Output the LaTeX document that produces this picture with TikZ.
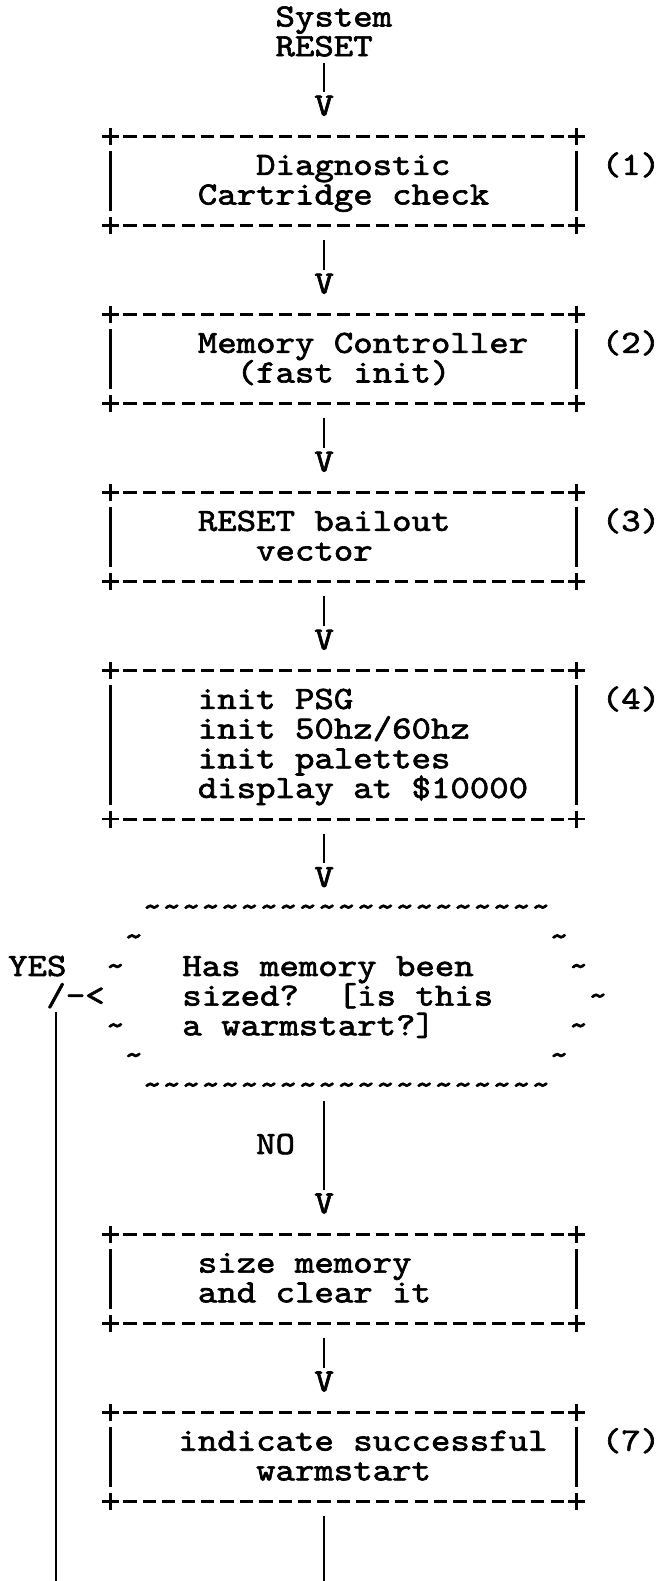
\documentclass[tikz,border=0pt]{standalone}
\usepackage{fontspec}
\newfontfamily\monofnt{lmmono10-regular.otf}[FakeStretch=1.142, FakeBold=2]
\usetikzlibrary{calc}
% grid: column centre / row centre / cell left / baseline (pixels, y downward)
\newcommand\colc[1]{110.5+19.42*(#1)}
\newcommand\rowc[1]{18+29.67*((#1)-1)}
\newcommand\coll[1]{100.79+19.42*(#1)}
\newcommand\rowb[1]{26.5+29.67*((#1)-1)}
\newcommand\asciitl{\textasciitilde}
\tikzset{
  txt/.style={anchor=base west, inner sep=0pt, outer sep=0pt,
    font=\monofnt\fontsize{32.4}{29.67}\selectfont\frenchspacing},
  boxshape/.style={draw=none, inner sep=0pt, outer sep=0pt, minimum width=466.08pt},
  edgeline/.style={line width=2.8pt},
  dashedge/.style={line width=3.1pt, dash pattern=on 13.3pt off 6.12pt},
  conn/.style={line width=2.6pt},
}
\newcommand\txtat[4]{\node[txt] (#1) at ({\coll{#2}},{\rowb{#3}}) {#4};}
\newcommand\plusat[1]{\draw[edgeline] ([xshift=-8.5pt]#1) -- ([xshift=8.5pt]#1) ([yshift=-8.5pt]#1) -- ([yshift=8.5pt]#1);}
\newcommand\asciibox[3]{%
  \node[boxshape, minimum height={29.67*((#3)-(#2))}] (#1) at ({\colc{12}},{(\rowc{#2}+\rowc{#3})/2}) {};
  \draw[dashedge] ([xshift=12.77pt]#1.north west) -- ([xshift=-12.77pt]#1.north east)
                  ([xshift=12.77pt]#1.south west) -- ([xshift=-12.77pt]#1.south east);
  \draw[edgeline] ([yshift=-14.5pt]#1.north west) -- ([yshift=14.5pt]#1.south west)
                  ([yshift=-14.5pt]#1.north east) -- ([yshift=14.5pt]#1.south east);
  \plusat{#1.north west}\plusat{#1.north east}\plusat{#1.south west}\plusat{#1.south east}}
\newcommand\vtip[2]{\node[txt] (#1) at ({\coll{11}},{\rowb{#2}}) {V};}
\newcommand\boxconn[2]{\draw[conn] ($(#1.south -| #2.north)+(0,14.5)$) -- ($(#2.north)+(0,-4)$);}

\begin{document}
\begin{tikzpicture}[x=1pt,y=-1pt]
\fill[white] (0,0) rectangle (660,1581);
\useasboundingbox (0,0) rectangle (660,1581);

% start
\txtat{sys}{9}{1}{System}
\txtat{reset}{9}{2}{RESET}
\vtip{v1}{4}
\draw[conn] ($(reset.south -| v1.north)+(0,6.2)$) -- ($(v1.north)+(0,-4)$);

% (1)
\asciibox{b1}{5}{8}
\txtat{b1a}{8}{6}{Diagnostic}
\txtat{b1b}{5}{7}{Cartridge check}
\txtat{n1}{25.8}{6}{(1)}
\vtip{v2}{10}
\boxconn{b1}{v2}

% (2)
\asciibox{b2}{11}{14}
\txtat{b2a}{5}{12}{Memory Controller}
\txtat{b2b}{7}{13}{(fast init)}
\txtat{n2}{25.8}{12}{(2)}
\vtip{v3}{16}
\boxconn{b2}{v3}

% (3)
\asciibox{b3}{17}{20}
\txtat{b3a}{5}{18}{RESET bailout}
\txtat{b3b}{8}{19}{vector}
\txtat{n3}{25.8}{18}{(3)}
\vtip{v4}{22}
\boxconn{b3}{v4}

% (4)
\asciibox{b4}{23}{28}
\txtat{b4a}{5}{24}{init PSG}
\txtat{b4b}{5}{25}{init 50hz/60hz}
\txtat{b4c}{5}{26}{init palettes}
\txtat{b4d}{5}{27}{display at \$10000}
\txtat{n4}{25.8}{24}{(4)}
\vtip{v5}{30}
\boxconn{b4}{v5}

% decision
\node[draw=none, inner sep=0pt, outer sep=0pt, minimum width=485.5pt, minimum height=178pt]
  (dec) at ({\colc{12.5}},{\rowc{34}}) {};
\txtat{dtop}{2.15}{31}{\asciitl\asciitl\asciitl\asciitl\asciitl\asciitl\asciitl\asciitl\asciitl\asciitl\asciitl\asciitl\asciitl\asciitl\asciitl\asciitl\asciitl\asciitl\asciitl\asciitl\asciitl}
\txtat{dbot}{2.15}{37}{\asciitl\asciitl\asciitl\asciitl\asciitl\asciitl\asciitl\asciitl\asciitl\asciitl\asciitl\asciitl\asciitl\asciitl\asciitl\asciitl\asciitl\asciitl\asciitl\asciitl\asciitl}
\txtat{dl2}{1.2}{32}{\asciitl}
\txtat{dr2}{23.1}{32}{\asciitl}
\txtat{dl3}{0.25}{33}{\asciitl}
\txtat{dr3}{24.1}{33}{\asciitl}
\txtat{dr4}{25.1}{34}{\asciitl}
\txtat{dl5}{0.25}{35}{\asciitl}
\txtat{dr5}{24.1}{35}{\asciitl}
\txtat{dl6}{1.2}{36}{\asciitl}
\txtat{dr6}{23.1}{36}{\asciitl}
\txtat{da}{4.2}{33}{Has memory been}
\txtat{db}{4.2}{34}{sized?\ \ [is this}
\txtat{dc}{4.2}{35}{a warmstart?]}

% YES branch
\txtat{yes}{-4.77}{33}{YES}
\txtat{yesbr}{-2.8}{34}{/-<}
\coordinate (yesend) at ({\colc{-2.8}},1581);
\draw[conn] ($(yesbr.base west)+(9.71,6.2)$) -- (yesend);

% NO branch
\vtip{v6}{41}
\txtat{no}{8}{39}{NO}
\boxconn{dec}{v6}

% size memory
\asciibox{b5}{42}{45}
\txtat{b5a}{5}{43}{size memory}
\txtat{b5b}{5}{44}{and clear it}
\vtip{v7}{47}
\boxconn{b5}{v7}

% (7)
\asciibox{b6}{48}{51}
\txtat{b6a}{4}{49}{indicate successful}
\txtat{b6b}{8}{50}{warmstart}
\txtat{n7}{25.8}{49}{(7)}
\coordinate (mainend) at ({\colc{11}},1581);
\draw[conn] ($(b6.south -| mainend)+(0,14.5)$) -- (mainend);
\end{tikzpicture}
\end{document}
